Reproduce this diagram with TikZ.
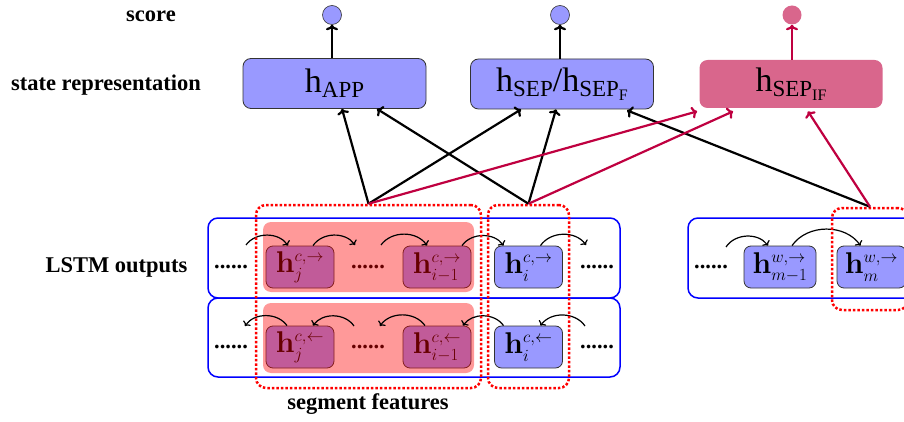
\documentclass[tikz,border=0pt]{standalone}
\usepackage{fix-cm}
\usepackage[no-math]{fontspec}
\setmainfont{Liberation Serif}
\usetikzlibrary{arrows.meta}
\DeclareMathSizes{30}{30}{17}{12}
\newcommand\tsub[1]{\raisebox{-5pt}{\fontsize{23}{24}\selectfont #1}}
\newcommand\tssub[1]{\raisebox{-3.5pt}{\fontsize{16}{17}\selectfont #1}}
\begin{document}
\begin{tikzpicture}[x=1pt,y=-1pt,
  lab/.style={font=\bfseries\fontsize{22.5}{26}\selectfont, inner sep=0pt},
  topbox/.style={draw=black!80, line width=0.8pt, rounded corners=8pt, fill=blue!40,
    minimum width=183pt, minimum height=50pt, inner sep=0pt, font=\fontsize{34}{36}\selectfont},
  cell/.style={draw=black!80, line width=0.8pt, rounded corners=7pt, fill=blue!40,
    minimum width=68pt, minimum height=42pt, inner sep=0pt, font=\fontsize{30}{34}\selectfont},
  lstm/.style={draw=blue, line width=1.5pt, rounded corners=10pt, inner sep=0pt},
  seg/.style={draw=red, dotted, line width=2.5pt, rounded corners=10pt, inner sep=0pt},
  circ/.style={circle, draw=black!80, line width=0.6pt, fill=blue!40, minimum size=19pt, inner sep=0pt},
  dotsn/.style={font=\bfseries\fontsize{22.5}{26}\selectfont, inner sep=0pt},
  bigarr/.style={-{To[length=5.5pt,width=12pt]}, line width=2.2pt},
  smarr/.style={-{To[length=4pt,width=9pt]}, line width=1.2pt},
]
\useasboundingbox (0,0) rectangle (904,422);
\clip (0,0) rectangle (904,422);

% row labels
\node[lab] (lscore) at (151,16) {score};
\node[lab] (lstate) at (106,85) {state representation};
\node[lab] (llstm) at (116.5,267) {LSTM outputs};
\node[lab] (lseg) at (368,404) {segment features};

% top boxes
\node[topbox] (app) at (334.5,83.5) {h\tsub{APP}};
\node[topbox] (sep) at (562,84) {h\tsub{SEP}/h\tsub{SEP\tssub{F}}};
\node[topbox, fill=purple!60, draw=none, minimum height=48pt] (sif) at (791,84) {h\tsub{SEP\tssub{IF}}};

% score circles
\node[circ] (s1) at (332,15) {};
\node[circ] (s2) at (560,15) {};
\node[circ, fill=purple!60, draw=none] (s3) at (792,15) {};
\draw[bigarr] (s1 |- app.north) -- (s1);
\draw[bigarr] (s2 |- sep.north) -- (s2);
\draw[bigarr, purple] (s3 |- sif.north) -- (s3);

% LSTM boxes
\node[lstm, minimum width=412pt, minimum height=80pt] (fw) at (414,258) {};
\node[lstm, minimum width=412pt, minimum height=79pt] (bw) at (414,337.5) {};
\node[lstm, minimum width=242pt, minimum height=80pt] (wd) at (809,258) {};

% cells
\node[cell] (hjf) at (300,267) {$\mathbf{h}^{c,\rightarrow}_{j}$};
\node[cell] (hif1) at (437,267) {$\mathbf{h}^{c,\rightarrow}_{i-1}$};
\node[cell] (hif) at (528.5,267) {$\mathbf{h}^{c,\rightarrow}_{i}$};
\node[cell] (hjb) at (300,347) {$\mathbf{h}^{c,\leftarrow}_{j}$};
\node[cell] (hib1) at (437,347) {$\mathbf{h}^{c,\leftarrow}_{i-1}$};
\node[cell] (hib) at (528.5,347) {$\mathbf{h}^{c,\leftarrow}_{i}$};
\node[cell, minimum width=72pt] (hm1) at (780,267) {$\mathbf{h}^{w,\rightarrow}_{m-1}$};
\node[cell, minimum width=69pt] (hm) at (871.5,267) {$\mathbf{h}^{w,\rightarrow}_{m}$};

% dots
\node[dotsn] (d1) at (231,267) {......};
\node[dotsn] (d2) at (368,267) {......};
\node[dotsn] (d3) at (597,267) {......};
\node[dotsn] (d4) at (231,347) {......};
\node[dotsn] (d5) at (368,347) {......};
\node[dotsn] (d6) at (597,347) {......};
\node[dotsn] (d7) at (711,267) {......};

% segment overlay
\fill[red, opacity=0.4, rounded corners=8pt] (263,222) rectangle (474,292);
\fill[red, opacity=0.4, rounded corners=8pt] (263,303) rectangle (474,373);

% recurrent arrows
\coordinate (f1) at (246,245);
\coordinate (f2) at (355,245);
\coordinate (f3) at (381,245);
\coordinate (f4) at (586,245);
\coordinate (b1) at (245,326);
\coordinate (b2) at (354,326);
\coordinate (b3) at (380,326);
\coordinate (b4) at (585,326);
\coordinate (w1) at (726,247);
\draw[smarr] (f1) to[bend left=55] ([xshift=-12pt]hjf.north);
\draw[smarr] ([xshift=13pt]hjf.north) to[bend left=55] (f2);
\draw[smarr] (f3) to[bend left=55] ([xshift=-10pt]hif1.north);
\draw[smarr] ([xshift=25pt]hif1.north) to[bend left=55] ([xshift=-25pt]hif.north);
\draw[smarr] ([xshift=12pt]hif.north) to[bend left=55] (f4);
\draw[smarr] ([xshift=-13pt]hjb.north) to[bend right=55] (b1);
\draw[smarr] (b2) to[bend right=55] ([xshift=13pt]hjb.north);
\draw[smarr] ([xshift=-12pt]hib1.north) to[bend right=55] (b3);
\draw[smarr] ([xshift=-25pt]hib.north) to[bend right=55] ([xshift=26pt]hib1.north);
\draw[smarr] (b4) to[bend right=55] ([xshift=12pt]hib.north);
\draw[smarr] (w1) to[bend left=55] ([xshift=-12pt]hm1.north);
\draw[smarr] ([xshift=12pt]hm1.north) to[bend left=55] ([xshift=-11pt]hm.north);

% segment boxes
\node[seg, minimum width=225pt, minimum height=183pt] (sg1) at (368.5,296.5) {};
\node[seg, minimum width=81pt, minimum height=183pt] (sg2) at (528.5,296.5) {};
\node[seg, minimum width=76pt, minimum height=102pt] (sg3) at (870,259) {};

% feature arrows
\draw[bigarr] (sg1.north) -- ([xshift=7.5pt]app.south);
\draw[bigarr] (sg1.north) -- ([xshift=-41pt]sep.south);
\draw[bigarr] (sg2.north) -- ([xshift=42.5pt]app.south);
\draw[bigarr] (sg2.north) -- ([xshift=-6pt]sep.south);
\draw[bigarr] (sg3.north) -- ([xshift=65pt,yshift=-1pt]sep.south);
\draw[bigarr, purple] (sg1.north) -- ([xshift=-2pt,yshift=-3pt]sif.south west);
\draw[bigarr, purple] (sg2.north) -- ([xshift=-58pt,yshift=-3pt]sif.south);
\draw[bigarr, purple] (sg3.north) -- ([xshift=17pt,yshift=-3pt]sif.south);
\end{tikzpicture}
\end{document}
